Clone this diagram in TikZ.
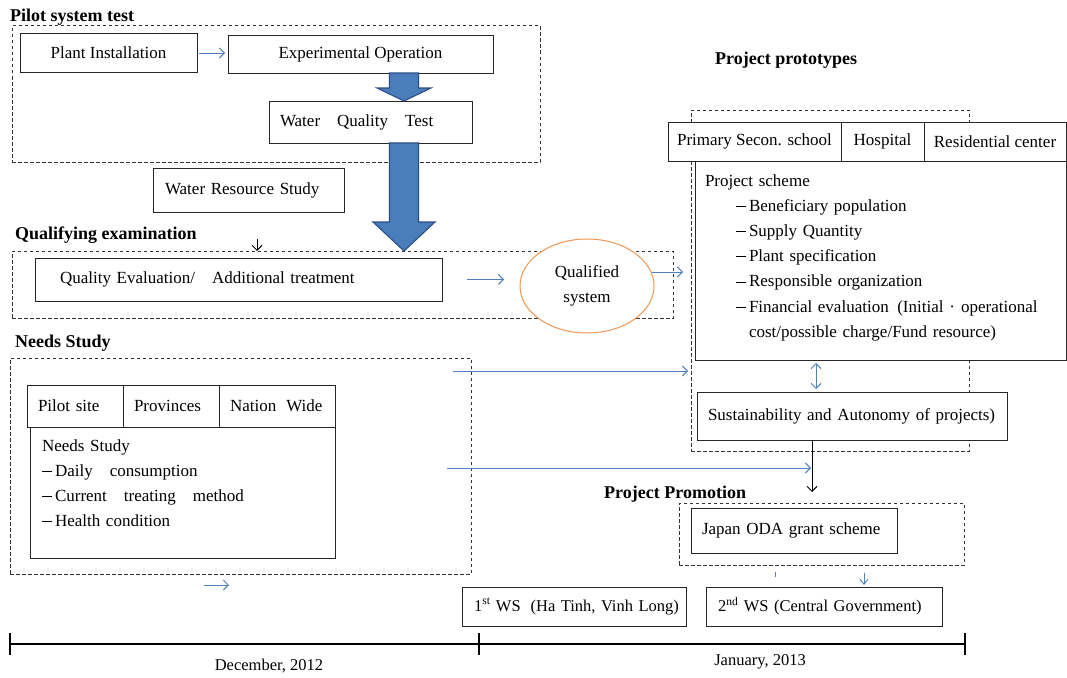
\documentclass[tikz,border=0pt]{standalone}
\usepackage{fontspec}
\setmainfont{Liberation Serif}
\usetikzlibrary{arrows.meta,shapes.geometric,calc}
\definecolor{lblue}{RGB}{79,129,189}
\definecolor{fatfill}{RGB}{74,126,187}
\definecolor{fatdraw}{RGB}{42,78,138}
\definecolor{orng}{RGB}{240,150,80}
\newcommand{\bodyfont}{\fontsize{17}{25.2}\selectfont}
\newcommand{\wsfont}{\fontsize{16.5}{25.2}\selectfont}
\newcommand{\headfont}{\fontsize{18}{22}\selectfont\bfseries}
\newcommand{\dsh}{\rule[0.26em]{10pt}{0.8pt}\kern3pt}
\newcommand{\fatarrow}[4]{\draw[fat] ($(#1)+(-14.5,0)$) -- ($(#1)+(14.5,0)$) -- ($(#2)+(14.5,-#3)$) -- ($(#2)+(#4,-#3)$) -- (#2) -- ($(#2)+(-#4,-#3)$) -- ($(#2)+(-14.5,-#3)$) -- cycle;}
\tikzset{
 box/.style={draw=black!85, line width=1pt, fill=white, inner sep=0pt, outer sep=0pt, anchor=north west, font=\bodyfont},
 dbox/.style={draw=black!80, line width=1pt, dash pattern=on 3.5pt off 2.5pt, inner sep=0pt, outer sep=0pt, anchor=north west},
 head/.style={anchor=west, inner sep=0pt, font=\headfont},
 barrow/.style={draw=lblue, line width=0.9pt, -{Straight Barb[length=5pt,width=10pt]}},
 dbarrow/.style={draw=lblue, line width=0.9pt, {Straight Barb[length=5pt,width=10pt]}-{Straight Barb[length=5pt,width=10pt]}},
 karrow/.style={draw=black, line width=0.9pt, -{Straight Barb[length=5pt,width=10pt]}},
 fat/.style={fill=fatfill, draw=fatdraw, line width=1.1pt, line join=miter},
}
\begin{document}
\begin{tikzpicture}[x=1pt,y=-1pt]
\fill[white] (0,0) rectangle (1067,677);
\useasboundingbox (0,0) rectangle (1067,677);

% ---------- Pilot system test ----------
\node[head] (hpilot) at (10,17) {Pilot system test};
\node[dbox, minimum width=528pt, minimum height=136pt] (pilot) at (12,26) {};
\node[box, minimum width=177pt, minimum height=38pt] (plant) at (20,34) {Plant Installation};
\node[box, minimum width=265pt, minimum height=37pt] (expop) at (228,36) {Experimental Operation};
\node[box, text width=181pt, inner xsep=11pt, minimum height=42pt, align=left] (wqt) at (269,101) {Water\quad Quality\quad Test};
\node[box, text width=167pt, inner xsep=12pt, minimum height=44pt, align=left] (wrs) at (153,168) {Water Resource Study};
\draw[barrow, shorten <=2pt, shorten >=3pt] (plant.east) -- (plant.east -| expop.west);

% ---------- Qualifying examination ----------
\node[head] (hqual) at (15,235) {Qualifying examination};
\node[dbox, minimum width=661pt, minimum height=67pt] (qual) at (12,251) {};
\node[box, text width=357pt, inner xsep=25pt, minimum height=43pt, align=left] (qe) at (35,258) {Quality Evaluation/\quad Additional treatment};
\node[box, ellipse, draw=orng, line width=1pt, minimum width=134pt, minimum height=94pt, anchor=center, align=center] (qs) at (587,286) {Qualified\\system};
\draw[barrow, shorten <=25pt, shorten >=16pt] (qe.east) -- (qe.east -| qs.west);
\coordinate (qa) at (257,239);
\draw[karrow] (qa) -- (qa |- qual.north);

% ---------- Project prototypes ----------
\node[head] (hproto) at (715,60) {Project prototypes};
\node[dbox, minimum width=278pt, minimum height=341pt] (proto) at (691,110) {};
\node[box, text width=351pt, inner xsep=10pt, align=left, text height=25pt, text depth=174pt] (scheme) at (695,161) {Project scheme\\
\hspace*{31pt}\dsh Beneficiary population\\
\hspace*{31pt}\dsh Supply Quantity\\
\hspace*{31pt}\dsh Plant specification\\
\hspace*{31pt}\dsh Responsible organization\\
\hspace*{31pt}\dsh Financial evaluation\hspace{0.5em}(Initial\hspace{0.35em}·\hspace{0.35em}operational\\
\hspace*{44pt}cost/possible charge/Fund resource)};
\node[box, minimum width=173pt, minimum height=39pt] (school) at (668,122) {Primary Secon. school};
\node[box, minimum width=83pt, minimum height=39pt] (hosp) at (841,122) {Hospital};
\node[box, minimum width=142pt, minimum height=39pt] (resid) at (924,122) {Residential center};
\node[box, text width=288pt, inner xsep=11pt, minimum height=48pt, align=left] (sust) at (697,392) {Sustainability and Autonomy of projects)};
\coordinate (da) at ($(scheme.south west)+(121,0)$);
\draw[dbarrow, shorten <=3pt, shorten >=3pt] (da) -- (da |- sust.north);
\coordinate (qo) at ($(qs.center)+(65,-14)$);
\draw[barrow, shorten >=8pt] (qo) -- (qo -| proto.west);

% ---------- Needs Study ----------
\node[head] (hneeds) at (15,343) {Needs Study};
\node[dbox, minimum width=461pt, minimum height=216pt] (needs) at (10,358) {};
\node[box, text width=281pt, inner xsep=12pt, align=left, text height=24pt, text depth=107pt] (nbody) at (30,427) {Needs Study\\
\dsh Daily\quad consumption\\
\dsh Current\quad treating\quad method\\
\dsh Health condition};
\node[box, text width=74pt, inner xsep=11pt, minimum height=42pt, align=left] (pilotsite) at (27,385) {Pilot site};
\node[box, text width=74pt, inner xsep=11pt, minimum height=42pt, align=left] (prov) at (123,385) {Provinces};
\node[box, text width=94pt, inner xsep=11pt, minimum height=42pt, align=left] (nation) at (219,385) {\mbox{Nation\kern10pt Wide}};
\coordinate (n1) at (453,371);
\draw[barrow, shorten >=3pt] (n1) -- (n1 -| proto.west);
\coordinate (na) at ($(needs.south west)+(194,11)$);
\draw[barrow] (na) -- ++(25,0);

% ---------- Project Promotion ----------
\node[head] (hpromo) at (604,494) {Project Promotion};
\node[dbox, minimum width=285pt, minimum height=62pt] (promo) at (679,503) {};
\node[box, text width=184pt, inner xsep=11pt, minimum height=45pt, align=left] (oda) at (691,508) {Japan ODA grant scheme};
\coordinate (sb) at ($(sust.south west)+(115,0)$);
\draw[karrow, shorten >=11pt] (sb) -- (sb |- promo.north);
\coordinate (n2) at (447,468);
\draw[barrow, shorten >=1pt] (n2) -- (n2 -| sb);

% ---------- Workshops ----------
\node[box, font=\wsfont, text width=200pt, inner xsep=12pt, minimum height=39pt, align=left] (ws1) at (462,587) {\mbox{1\textsuperscript{st} WS\hspace{0.6em}(Ha Tinh, Vinh Long)}};
\node[box, font=\wsfont, text width=212pt, inner xsep=12pt, minimum height=39pt, align=left] (ws2) at (706,587) {\mbox{2\textsuperscript{nd} WS (Central Government)}};
\draw[lblue, line width=0.9pt] ($(promo.south west)+(96,7)$) -- ++(0,5);
\coordinate (pa) at ($(promo.south west)+(185,8)$);
\draw[draw=lblue, line width=0.9pt, -{Straight Barb[length=5pt,width=8pt]}, shorten >=2pt] (pa) -- (pa |- ws2.north);

% ---------- Timeline ----------
\coordinate (t0) at (10,644);
\coordinate (t1) at (479,644);
\coordinate (t2) at (965,644);
\draw[line width=1.6pt] (t0) -- (t2);
\foreach \t in {t0,t1,t2} \draw[line width=1.2pt] ($(\t)+(0,-11)$) -- ($(\t)+(0,11)$);
\node[font=\wsfont] (dec) at (269,666) {December, 2012};
\node[font=\wsfont] (jan) at (760,662) {January, 2013};

% ---------- Big arrows ----------
\coordinate (a1s) at ($(expop.south west)+(176,0)$);
\coordinate (a1e) at (a1s |- wqt.north);
\fatarrow{a1s}{a1e}{13}{27}
\coordinate (a2s) at ($(wqt.south west)+(135,0)$);
\coordinate (a2e) at (a2s |- qual.north);
\fatarrow{a2s}{a2e}{29}{31}
\end{tikzpicture}
\end{document}
